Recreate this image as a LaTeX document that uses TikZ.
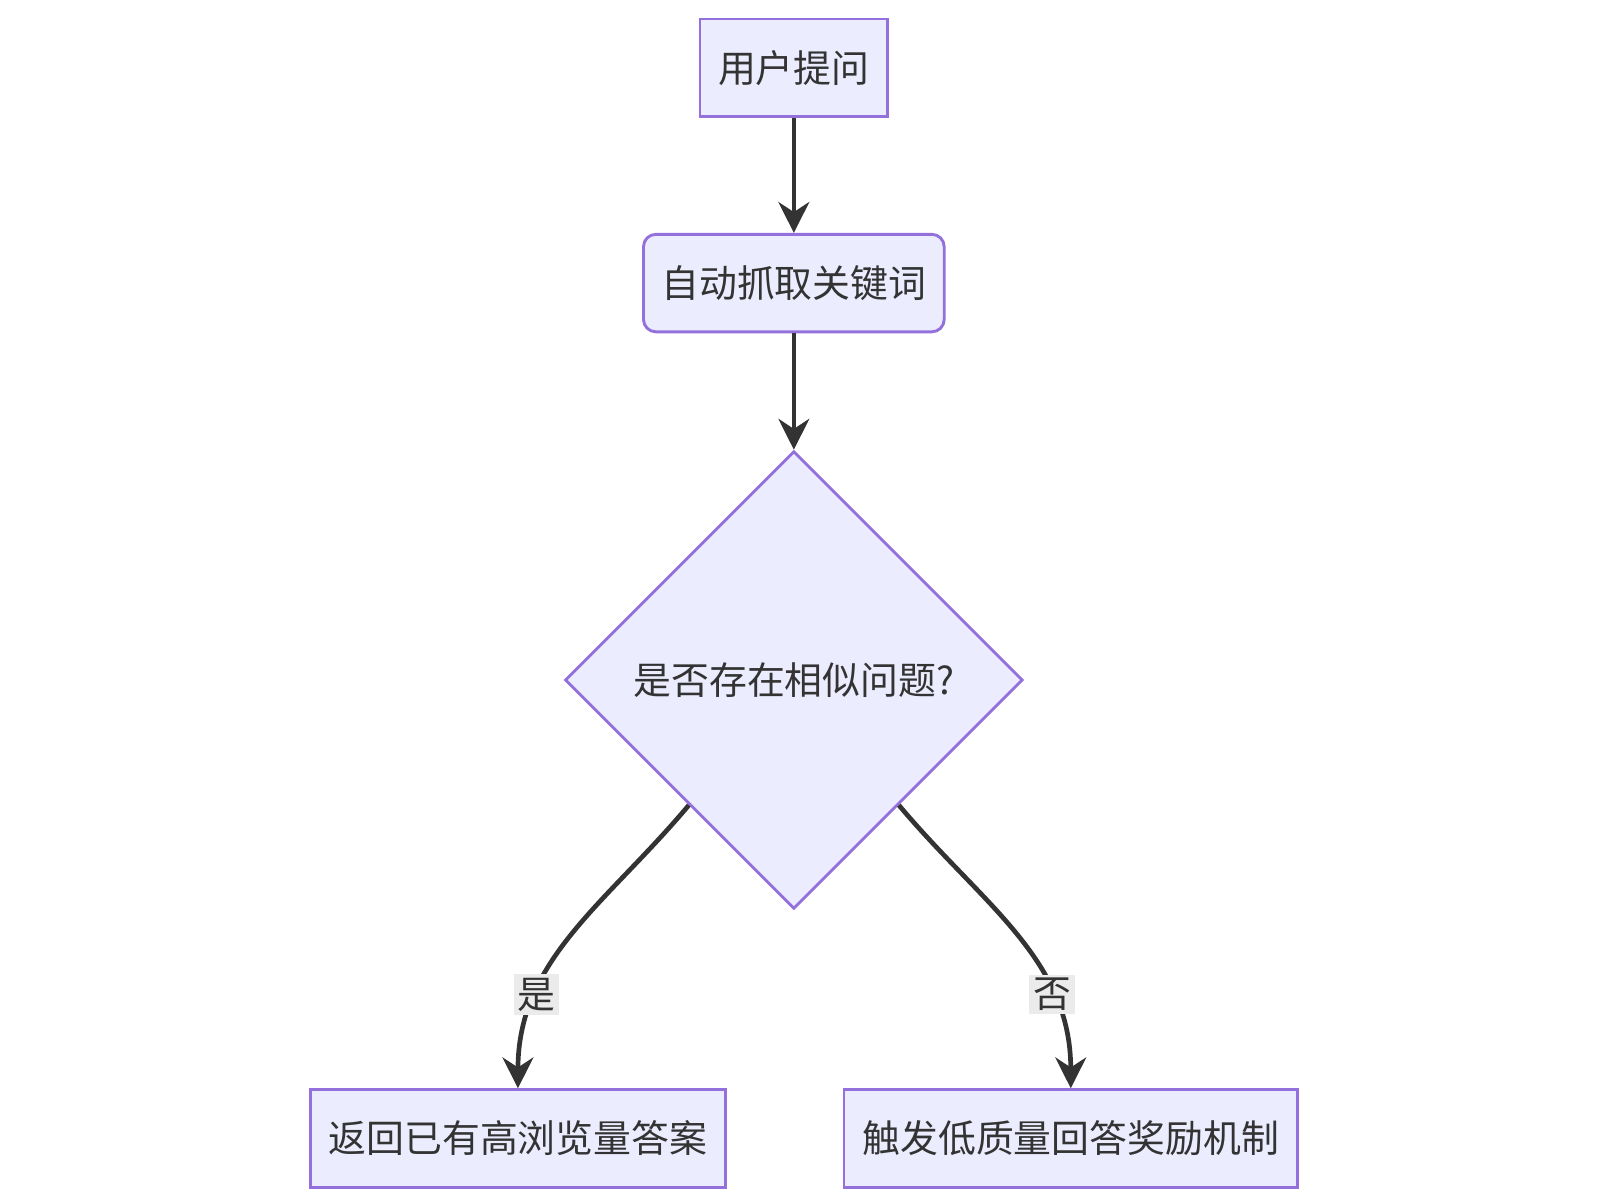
\documentclass[tikz,border=0pt]{standalone}
\usepackage{fontspec}
\setmainfont{Noto Sans CJK SC}
\usetikzlibrary{shapes.geometric}
\usetikzlibrary{arrows.meta}
\definecolor{boxfill}{HTML}{ECECFF}
\definecolor{boxline}{HTML}{9370DB}
\definecolor{edgecol}{HTML}{333333}
\tikzstyle{procbox}=[draw=boxline, fill=boxfill, line width=0.8pt, inner sep=0pt, minimum height=0.95cm, font=\fontsize{10.5pt}{12pt}\selectfont, text=edgecol]
\tikzstyle{rprocbox}=[procbox, rounded corners=0.12cm]
\tikzstyle{decide}=[procbox, diamond, aspect=1, minimum width=4.46cm, minimum height=4.46cm]
\tikzstyle{flow}=[draw=edgecol, line width=1.3pt, -{Stealth[length=0.3cm,width=0.3cm]}]
\tikzstyle{elabel}=[fill=black!8, inner sep=1pt, font=\fontsize{10.5pt}{12pt}\selectfont, text=edgecol]

\begin{document}
\begin{tikzpicture}[x=0.01cm, y=-0.01cm]
        \useasboundingbox (0,0) rectangle (1560,1170);
        \node[procbox, minimum width=1.83cm]  (Q) at (774, 66)   {用户提问};
        \node[rprocbox, minimum width=2.93cm] (K) at (774, 276)  {自动抓取关键词};
        \node[decide]                         (S) at (774, 663)  {是否存在相似问题?};
        \node[procbox, minimum width=4.05cm]  (Y) at (505, 1110) {返回已有高浏览量答案};
        \node[procbox, minimum width=4.42cm]  (N) at (1044, 1110) {触发低质量回答奖励机制};
        \draw[flow] (Q) -- (K);
        \draw[flow] (K) -- (S);
        \draw[flow] (S.-130) to[out=-130, in=90] node[elabel, pos=0.72] {是} (Y.north);
        \draw[flow] (S.-50) to[out=-50, in=90] node[elabel, pos=0.72] {否} (N.north);
    \end{tikzpicture}
\end{document}
